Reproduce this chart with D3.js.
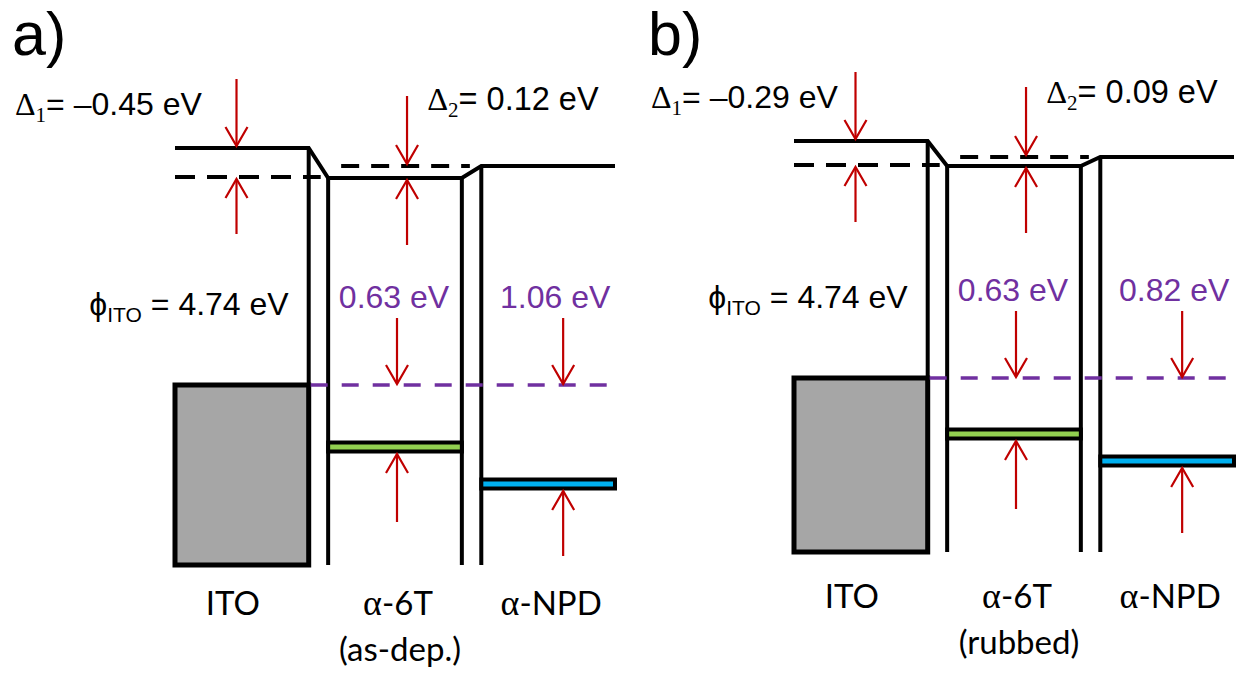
<!DOCTYPE html>
<html>
<head>
<meta charset="utf-8">
<script src="https://cdn.jsdelivr.net/npm/d3@7"></script>
<style>
  body { margin: 0; background: #fff; }
  svg { display: block; }
</style>
</head>
<body>
<div id="chart"></div>
<script>
// --- DATA (levels in eV below the ITO vacuum level, as drawn in the schematic) ---
const layers = ["ITO", "α-6T", "α-NPD"];
const panelNames = ["a)", "b)"];
const treatment = ["(as-dep.)", "(rubbed)"];

const itoVac   = [0, 0];
const itoFermi = [-0.29, -0.24];
const t6Vac    = [-0.30, -0.25];
const npdVac   = [-0.18, -0.16];
const fermi    = [-2.37, -2.37];
const t6Homo   = [-2.99, -2.93];
const npdHomo  = [-3.36, -3.20];
const bottom   = [-4.17, -4.11];

const delta1Text = ["–0.45 eV", "–0.29 eV"];
const delta2Text = ["0.12 eV", "0.09 eV"];
const phiText    = ["4.74 eV", "4.74 eV"];
const hole6T     = ["0.63 eV", "0.63 eV"];
const holeNPD    = ["1.06 eV", "0.82 eV"];

// --- LAYOUT ---
const width = 1257, height = 682;
const panelLayout = [
  { dx: 0,   top: 148, letterX: 12,  d1X: 15 },
  { dx: 619, top: 141, letterX: 648, d1X: 651 }
];
const red = "#c00000", purple = "#7030a0";
const sans = "'Liberation Sans', Arial, sans-serif";
const serif = "'Liberation Serif', 'Times New Roman', serif";
const calib = "Lato, 'Open Sans', sans-serif";

const svg = d3.select("#chart").append("svg")
  .attr("width", width).attr("height", height);

function arrow(g, x, yFrom, yTo) {
  const dir = yTo > yFrom ? 1 : -1;
  g.append("line")
    .attr("x1", x).attr("x2", x).attr("y1", yFrom).attr("y2", yTo)
    .attr("stroke", red).attr("stroke-width", 2.2);
  g.append("path")
    .attr("d", `M${x - 11},${yTo - dir * 19}L${x},${yTo}L${x + 11},${yTo - dir * 19}`)
    .attr("fill", "none").attr("stroke", red).attr("stroke-width", 2.2);
}

panelLayout.forEach((p, i) => {
  const g = svg.append("g");
  const x = d3.scaleBand().domain(layers)
    .range([p.dx + 175, p.dx + 615]).paddingInner(0.127).paddingOuter(0);
  const y = d3.scaleLinear().domain([0, -4.2]).range([p.top, p.top + 420]);
  const bw = x.bandwidth();
  const [ito, t6, npd] = layers.map(l => x(l));

  // ITO metal block
  g.append("rect")
    .attr("x", ito).attr("y", y(fermi[i]))
    .attr("width", bw).attr("height", y(bottom[i]) - y(fermi[i]))
    .attr("fill", "#a6a6a6").attr("stroke", "#000").attr("stroke-width", 5);

  // vertical walls
  [[ito + bw, itoVac[i], fermi[i]], [t6, t6Vac[i], bottom[i]],
   [t6 + bw, t6Vac[i], bottom[i]], [npd, npdVac[i], bottom[i]]].forEach(([vx, a, b]) => {
    g.append("line").attr("x1", vx).attr("x2", vx)
      .attr("y1", y(a)).attr("y2", y(b))
      .attr("stroke", "#000").attr("stroke-width", 4);
  });

  // vacuum level
  const vac = [[ito, itoVac[i]], [ito + bw, itoVac[i]], [t6, t6Vac[i]],
               [t6 + bw, t6Vac[i]], [npd, npdVac[i]], [npd + bw, npdVac[i]]];
  g.append("path")
    .attr("d", d3.line().x(d => d[0]).y(d => y(d[1]))(vac))
    .attr("fill", "none").attr("stroke", "#000").attr("stroke-width", 4)
    .attr("stroke-linejoin", "miter");

  // dashed references
  g.append("line").attr("x1", ito).attr("x2", ito + bw + 12)
    .attr("y1", y(itoFermi[i])).attr("y2", y(itoFermi[i]))
    .attr("stroke", "#000").attr("stroke-width", 4).attr("stroke-dasharray", "20,12");
  g.append("line").attr("x1", t6 + 13).attr("x2", t6 + bw + 8)
    .attr("y1", y(npdVac[i])).attr("y2", y(npdVac[i]))
    .attr("stroke", "#000").attr("stroke-width", 4).attr("stroke-dasharray", "18,12");
  g.append("line").attr("x1", ito + bw + 2).attr("x2", npd + bw - 4)
    .attr("y1", y(fermi[i])).attr("y2", y(fermi[i]))
    .attr("stroke", purple).attr("stroke-width", 3.5).attr("stroke-dasharray", "17,14");

  // HOMO bars
  [[t6, t6Homo[i], "#92d050"], [npd, npdHomo[i], "#00b0f0"]].forEach(([bx, e, c]) => {
    g.append("rect")
      .attr("x", bx).attr("y", y(e) - 4.5).attr("width", bw).attr("height", 9)
      .attr("fill", c).attr("stroke", "#000").attr("stroke-width", 4);
  });

  // arrows
  const aD1 = ito + bw * 0.46, aD2 = t6 + bw * 0.59;
  arrow(g, aD1, y(itoVac[i]) - 69, y(itoVac[i]) - 2);
  arrow(g, aD1, y(itoFermi[i]) + 57, y(itoFermi[i]) + 2);
  arrow(g, aD2, y(npdVac[i]) - 70, y(npdVac[i]) - 2);
  arrow(g, aD2, y(t6Vac[i]) + 67, y(t6Vac[i]) + 2);
  const a6 = t6 + bw / 2 + 2, aN = npd + bw / 2 + 15;
  arrow(g, a6, y(fermi[i]) - 67, y(fermi[i]) - 1);
  arrow(g, aN, y(fermi[i]) - 67, y(fermi[i]) - 1);
  arrow(g, a6, y(t6Homo[i]) + 75, y(t6Homo[i]) + 7);
  arrow(g, aN, y(npdHomo[i]) + 72, y(npdHomo[i]) + 7);

  // panel letter
  g.append("text").attr("x", p.letterX).attr("y", 55)
    .style("font-family", sans).style("font-size", "61px").text(panelNames[i]);

  // delta labels
  const d1 = g.append("text").attr("x", p.d1X).attr("y", y(itoVac[i]) - 33)
    .style("font-family", sans).style("font-size", "32px");
  d1.append("tspan").style("font-family", serif).text("Δ");
  d1.append("tspan").style("font-family", serif).style("font-size", "21px").attr("dy", 7).text("1");
  d1.append("tspan").attr("dy", -7).text("= " + delta1Text[i]);

  const d2 = g.append("text").attr("x", t6 + 99).attr("y", y(itoVac[i]) - 38)
    .style("font-family", sans).style("font-size", "32.5px");
  d2.append("tspan").style("font-family", serif).text("Δ");
  d2.append("tspan").style("font-family", serif).style("font-size", "21px").attr("dy", 7).text("2");
  d2.append("tspan").attr("dy", -7).text("= " + delta2Text[i]);

  // work function
  const ph = g.append("text").attr("x", ito + bw - 20).attr("y", y(itoVac[i]) + 167)
    .attr("text-anchor", "end")
    .style("font-family", sans).style("font-size", "32px");
  ph.append("tspan").text("ϕ");
  ph.append("tspan").style("font-size", "21px").attr("dy", 7).text("ITO");
  ph.append("tspan").attr("dy", -7).text(" = " + phiText[i]);

  // hole injection barriers
  g.append("text").attr("x", t6 + bw / 2 - 1).attr("y", y(itoVac[i]) + 160)
    .attr("text-anchor", "middle").attr("fill", purple)
    .style("font-family", sans).style("font-size", "32px").text(hole6T[i]);
  g.append("text").attr("x", npd + bw / 2 + 7).attr("y", y(itoVac[i]) + 160)
    .attr("text-anchor", "middle").attr("fill", purple)
    .style("font-family", sans).style("font-size", "32px").text(holeNPD[i]);

  // layer names
  const labY = y(itoVac[i]) + 467;
  layers.forEach((l, k) => {
    const t = g.append("text").attr("x", x(l) + bw / 2 + (k === 0 ? -9 : 3)).attr("y", labY)
      .attr("text-anchor", "middle")
      .style("font-family", calib).style("font-size", "33px");
    if (l.startsWith("α")) {
      t.append("tspan").style("font-family", serif).style("font-size", "36px").text("α");
      t.append("tspan").text(l.slice(1));
    } else {
      t.text(l);
    }
  });
  g.append("text").attr("x", t6 + bw / 2 + 5).attr("y", labY + 46)
    .attr("text-anchor", "middle")
    .style("font-family", calib).style("font-size", "33px").text(treatment[i]);
});
</script>
</body>
</html>
